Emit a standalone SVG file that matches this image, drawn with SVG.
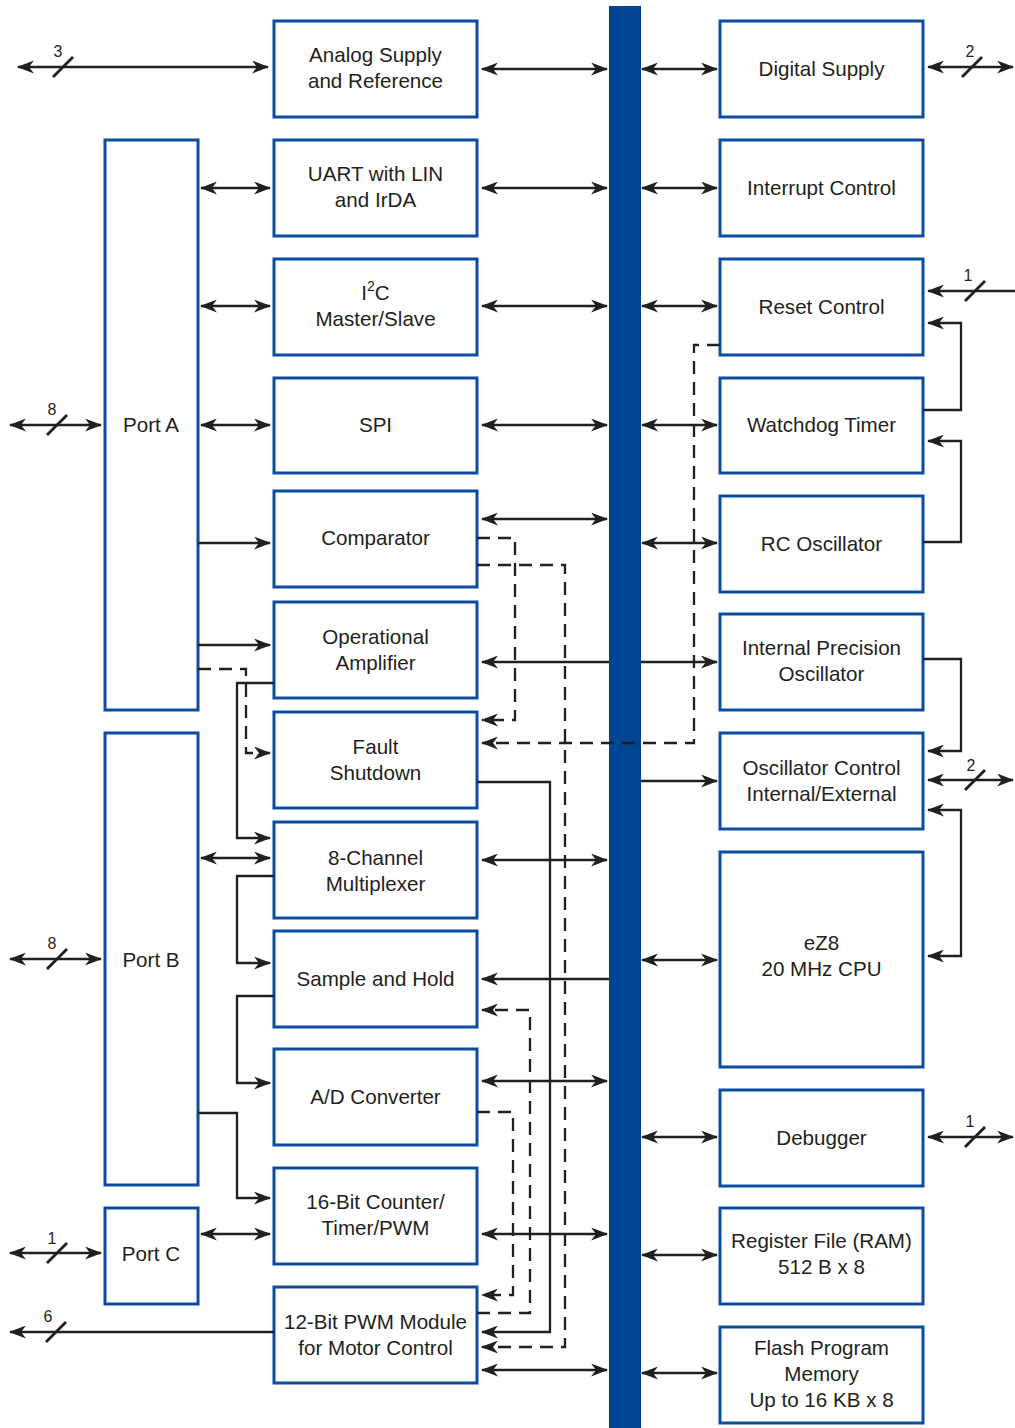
<svg xmlns="http://www.w3.org/2000/svg" width="1015" height="1428" viewBox="0 0 1015 1428">
<defs>
<marker id="ah" viewBox="0 0 17 13" refX="16" refY="6.5" markerWidth="17" markerHeight="13" markerUnits="userSpaceOnUse" orient="auto-start-reverse">
<path d="M0,0 L17,6.5 L0,13 L5,6.5 z" fill="#231f20"/>
</marker>
</defs>
<style>
.box{fill:#fff;stroke:#0b4d9f;stroke-width:3}
.t{font-family:"Liberation Sans",Arial,sans-serif;font-size:20.6px;fill:#231f20;text-anchor:middle}
.n{font-family:"Liberation Sans",Arial,sans-serif;font-size:16px;fill:#231f20;text-anchor:middle}
.c{fill:none;stroke:#231f20;stroke-width:2.3}
.d{marker-start:url(#ah);marker-end:url(#ah)}
.s{marker-end:url(#ah)}
.dash{stroke-dasharray:13 8}
.sl{stroke:#231f20;stroke-width:2.8;fill:none}
</style>
<rect width="1015" height="1428" fill="#fff"/>
<rect id="bus" x="609" y="6" width="32" height="1422" fill="#004494"/>

<g id="portA"><rect class="box" x="105" y="140" width="93" height="570"/><text class="t" x="151" y="432">Port A</text></g>
<g id="portB"><rect class="box" x="105" y="733" width="93" height="452"/><text class="t" x="151" y="967">Port B</text></g>
<g id="portC"><rect class="box" x="105" y="1208" width="93" height="96"/><text class="t" x="151" y="1261">Port C</text></g>

<g id="analog"><rect class="box" x="274" y="21" width="203" height="96"/><text class="t" x="375.5" y="62">Analog Supply</text><text class="t" x="375.5" y="88">and Reference</text></g>
<g id="uart"><rect class="box" x="274" y="140" width="203" height="96"/><text class="t" x="375.5" y="181">UART with LIN</text><text class="t" x="375.5" y="207">and IrDA</text></g>
<g id="i2c"><rect class="box" x="274" y="259" width="203" height="96"/><text class="t" x="375.5" y="300">I<tspan dy="-9" font-size="14">2</tspan><tspan dy="9">C</tspan></text><text class="t" x="375.5" y="326">Master/Slave</text></g>
<g id="spi"><rect class="box" x="274" y="378" width="203" height="95"/><text class="t" x="375.5" y="432">SPI</text></g>
<g id="comparator"><rect class="box" x="274" y="491" width="203" height="96"/><text class="t" x="375.5" y="545">Comparator</text></g>
<g id="opamp"><rect class="box" x="274" y="602" width="203" height="96"/><text class="t" x="375.5" y="644">Operational</text><text class="t" x="375.5" y="670">Amplifier</text></g>
<g id="fault"><rect class="box" x="274" y="712" width="203" height="96"/><text class="t" x="375.5" y="754">Fault</text><text class="t" x="375.5" y="780">Shutdown</text></g>
<g id="mux"><rect class="box" x="274" y="822" width="203" height="96"/><text class="t" x="375.5" y="865">8-Channel</text><text class="t" x="375.5" y="891">Multiplexer</text></g>
<g id="sh"><rect class="box" x="274" y="931" width="203" height="96"/><text class="t" x="375.5" y="986">Sample and Hold</text></g>
<g id="adc"><rect class="box" x="274" y="1049" width="203" height="96"/><text class="t" x="375.5" y="1104">A/D Converter</text></g>
<g id="counter"><rect class="box" x="274" y="1168" width="203" height="96"/><text class="t" x="375.5" y="1209">16-Bit Counter/</text><text class="t" x="375.5" y="1235">Timer/PWM</text></g>
<g id="pwm"><rect class="box" x="274" y="1287" width="203" height="96"/><text class="t" x="375.5" y="1329">12-Bit PWM Module</text><text class="t" x="375.5" y="1355">for Motor Control</text></g>

<g id="digital"><rect class="box" x="720" y="21" width="203" height="96"/><text class="t" x="821.5" y="76">Digital Supply</text></g>
<g id="interrupt"><rect class="box" x="720" y="140" width="203" height="96"/><text class="t" x="821.5" y="195">Interrupt Control</text></g>
<g id="reset"><rect class="box" x="720" y="259" width="203" height="96"/><text class="t" x="821.5" y="314">Reset Control</text></g>
<g id="watchdog"><rect class="box" x="720" y="378" width="203" height="95"/><text class="t" x="821.5" y="432">Watchdog Timer</text></g>
<g id="rcosc"><rect class="box" x="720" y="496" width="203" height="96"/><text class="t" x="821.5" y="551">RC Oscillator</text></g>
<g id="ipo"><rect class="box" x="720" y="614" width="203" height="96"/><text class="t" x="821.5" y="655">Internal Precision</text><text class="t" x="821.5" y="681">Oscillator</text></g>
<g id="oscctrl"><rect class="box" x="720" y="733" width="203" height="96"/><text class="t" x="821.5" y="775">Oscillator Control</text><text class="t" x="821.5" y="801">Internal/External</text></g>
<g id="cpu"><rect class="box" x="720" y="852" width="203" height="215"/><text class="t" x="821.5" y="950">eZ8</text><text class="t" x="821.5" y="976">20 MHz CPU</text></g>
<g id="debugger"><rect class="box" x="720" y="1090" width="203" height="96"/><text class="t" x="821.5" y="1145">Debugger</text></g>
<g id="regfile"><rect class="box" x="720" y="1208" width="203" height="96"/><text class="t" x="821.5" y="1248">Register File (RAM)</text><text class="t" x="821.5" y="1274">512 B x 8</text></g>
<g id="flash"><rect class="box" x="720" y="1327" width="203" height="96"/><text class="t" x="821.5" y="1355">Flash Program</text><text class="t" x="821.5" y="1381">Memory</text><text class="t" x="821.5" y="1407">Up to 16 KB x 8</text></g>

<g id="connectors">
<path class="c d" d="M18,67 H268"/>
<path class="c d" d="M482,69 H607"/>
<path class="c d" d="M642,69 H717"/>
<path class="c d" d="M928,67 H1013"/>
<path class="c d" d="M201,188 H270"/>
<path class="c d" d="M482,188 H607"/>
<path class="c d" d="M642,188 H717"/>
<path class="c d" d="M201,306 H270"/>
<path class="c d" d="M482,306 H607"/>
<path class="c d" d="M642,306 H717"/>
<path class="c d" d="M10,425 H101"/>
<path class="c d" d="M201,425 H270"/>
<path class="c d" d="M482,425 H607"/>
<path class="c d" d="M642,425 H717"/>
<path class="c d" d="M482,519 H607"/>
<path class="c d" d="M642,543 H717"/>
<path class="c d" d="M201,858 H270"/>
<path class="c d" d="M482,860 H607"/>
<path class="c d" d="M10,959 H101"/>
<path class="c d" d="M642,960 H717"/>
<path class="c d" d="M482,1081 H607"/>
<path class="c d" d="M642,1137 H717"/>
<path class="c d" d="M928,1137 H1013"/>
<path class="c d" d="M201,1234 H270"/>
<path class="c d" d="M482,1234 H607"/>
<path class="c d" d="M10,1253 H101"/>
<path class="c d" d="M642,1255 H717"/>
<path class="c d" d="M482,1370 H607"/>
<path class="c d" d="M642,1373 H717"/>
<path class="c d" d="M928,780 H1013"/>
<path class="c d" d="M928,810 H961 V956 H928"/>

<path class="c s" d="M198,543 H270"/>
<path class="c s" d="M198,645 H270"/>
<path class="c s" d="M609,662 H482"/>
<path class="c s" d="M641,662 H717"/>
<path class="c s" d="M641,781 H717"/>
<path class="c s" d="M609,979 H482"/>
<path class="c s" d="M274,683 H237 V838 H270"/>
<path class="c s" d="M274,876 H237 V963 H270"/>
<path class="c s" d="M274,996 H237 V1083 H270"/>
<path class="c s" d="M198,1113 H237 V1198 H270"/>
<path class="c s" d="M477,782 H550 V1332 H482"/>
<path class="c s" d="M274,1332 H10"/>
<path class="c s" d="M1015,291 H928"/>
<path class="c s" d="M923,410 H961 V323 H928"/>
<path class="c s" d="M923,542 H961 V441 H928"/>
<path class="c s" d="M923,659 H961 V751 H928"/>

<path class="c s dash" d="M477,538 H515 V720 H482"/>
<path class="c s dash" d="M477,565 H565 V1347 H482"/>
<path class="c s dash" d="M198,669 H246 V753 H270"/>
<path class="c s dash" d="M720,345 H694 V743 H482"/>
<path class="c s dash" d="M477,1313 H530 V1010 H482"/>
<path class="c s dash" d="M477,1112 H513 V1295 H482"/>

<path class="sl" d="M53,77 L73,57"/><text class="n" x="58" y="57">3</text>
<path class="sl" d="M962,77 L982,57"/><text class="n" x="970" y="57">2</text>
<path class="sl" d="M965,301 L985,281"/><text class="n" x="968" y="281">1</text>
<path class="sl" d="M47,435 L67,415"/><text class="n" x="52" y="415">8</text>
<path class="sl" d="M965,790 L985,770"/><text class="n" x="971" y="771">2</text>
<path class="sl" d="M47,969 L67,949"/><text class="n" x="52" y="949">8</text>
<path class="sl" d="M965,1147 L985,1127"/><text class="n" x="970" y="1127">1</text>
<path class="sl" d="M47,1263 L67,1243"/><text class="n" x="52" y="1244">1</text>
<path class="sl" d="M46,1342 L66,1322"/><text class="n" x="48" y="1322">6</text>
</g>
</svg>
